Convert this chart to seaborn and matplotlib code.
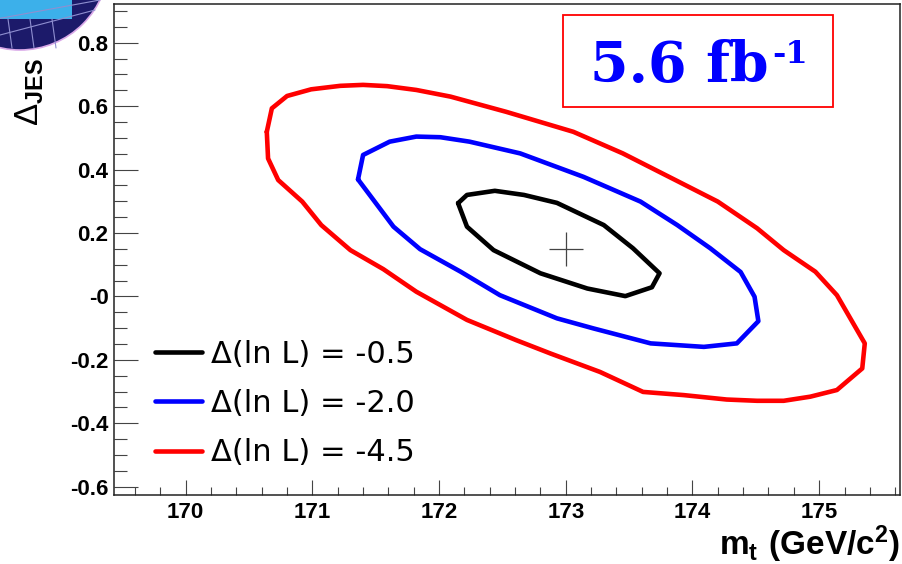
import matplotlib
matplotlib.use("Agg")
import matplotlib.pyplot as plt
from matplotlib.patches import Circle, Rectangle
import seaborn as sns
import pandas as pd

# contour points (m_t in GeV/c^2, Delta_JES)
black_x = [172.15, 172.22, 172.44, 172.67, 172.93, 173.30, 173.53, 173.74, 173.68, 173.47,
           173.17, 172.80, 172.43, 172.22]
black_y = [0.294, 0.320, 0.333, 0.320, 0.295, 0.225, 0.152, 0.073, 0.029, 0.001,
           0.025, 0.073, 0.146, 0.220]

blue_x = [171.36, 171.40, 171.61, 171.82, 172.01, 172.24, 172.64, 173.14, 173.59, 173.88,
          174.14, 174.38, 174.49, 174.52, 174.35, 174.09, 173.67, 173.22, 172.93, 172.48,
          172.17, 171.85, 171.64]
blue_y = [0.369, 0.446, 0.488, 0.504, 0.502, 0.488, 0.451, 0.377, 0.299, 0.225,
          0.152, 0.077, -0.001, -0.078, -0.148, -0.159, -0.148, -0.101, -0.069, 0.004,
          0.078, 0.149, 0.220]

red_x = [170.64, 170.68, 170.80, 170.99, 171.22, 171.40, 171.59, 171.82, 172.09, 172.53,
         173.06, 173.45, 173.85, 174.20, 174.51, 174.72, 174.97, 175.14, 175.36, 175.34,
         175.14, 174.93, 174.72, 174.51, 174.27, 173.93, 173.61, 173.27, 172.88, 172.61,
         172.22, 171.82, 171.56, 171.30, 171.07, 170.92, 170.73, 170.65]
red_y = [0.519, 0.593, 0.632, 0.653, 0.664, 0.667, 0.663, 0.651, 0.630, 0.582,
         0.519, 0.451, 0.370, 0.299, 0.215, 0.146, 0.078, 0.004, -0.148, -0.227,
         -0.295, -0.316, -0.329, -0.329, -0.325, -0.311, -0.301, -0.238, -0.180, -0.138,
         -0.074, 0.015, 0.086, 0.146, 0.225, 0.299, 0.367, 0.435]

levels = ["Δ(ln L) = -0.5", "Δ(ln L) = -2.0", "Δ(ln L) = -4.5"]
colors = ["black", "#0000ff", "#ff0000"]
best_fit = (173.0, 0.15)

y_ticks = [-0.6, -0.4, -0.2, 0.0, 0.2, 0.4, 0.6, 0.8]
y_tick_labels = ["-0.6", "-0.4", "-0.2", "-0", "0.2", "0.4", "0.6", "0.8"]
x_ticks = [170, 171, 172, 173, 174, 175]

rows = []
for lab, xs, ys in zip(levels, [black_x, blue_x, red_x], [black_y, blue_y, red_y]):
    xs, ys = xs + xs[:1], ys + ys[:1]  # close the contour
    for i, (x, y) in enumerate(zip(xs, ys)):
        rows.append((lab, i, x, y))
df = pd.DataFrame(rows, columns=["level", "order", "mt", "jes"])

sns.set_theme(style="white")
plt.rcParams["font.family"] = ["Liberation Sans", "DejaVu Sans"]
plt.rcParams["text.color"] = "black"
plt.rcParams["mathtext.fontset"] = "custom"
plt.rcParams["mathtext.rm"] = "Liberation Sans"
plt.rcParams["mathtext.bf"] = "Liberation Sans:bold"

W, H = 903, 564
fig = plt.figure(figsize=(W / 100, H / 100), dpi=100)
ax = fig.add_axes([114 / W, 1 - 495 / H, (900 - 114) / W, (495 - 4) / H])

sns.lineplot(data=df, x="mt", y="jes", hue="level", hue_order=levels,
             palette=dict(zip(levels, colors)), sort=False, estimator=None,
             units="level", linewidth=3.3, ax=ax)
ax.plot(*best_fit, marker="+", markersize=25, mew=0.9, color="#444444", ls="none")

ax.set_xlim(169.434, 175.638)
ax.set_ylim(-0.626, 0.922)
ax.set_xticks(x_ticks)
ax.set_xticklabels([str(t) for t in x_ticks])
ax.set_yticks(y_ticks)
ax.set_yticklabels(y_tick_labels)
ax.set_xticks([169.6 + 0.2 * i for i in range(31) if (i % 5) != 2], minor=True)
ax.set_yticks([-0.6 + 0.05 * i for i in range(31)], minor=True)
ax.set_xlabel("")
ax.set_ylabel("")
for lab in ax.get_xticklabels() + ax.get_yticklabels():
    lab.set_fontweight("bold")
    lab.set_fontsize(16)
    lab.set_color("black")
ax.tick_params(axis="x", which="major", direction="in", length=10.8, width=0.8,
               color="#444444", pad=5, bottom=True)
ax.tick_params(axis="x", which="minor", direction="in", length=5.8, width=0.8,
               color="#444444", bottom=True)
ax.tick_params(axis="y", which="major", direction="in", length=17.3, width=0.8,
               color="#444444", pad=4, left=True)
ax.tick_params(axis="y", which="minor", direction="in", length=9.4, width=0.8,
               color="#444444", left=True)
for sp in ax.spines.values():
    sp.set_color("#222222")
    sp.set_linewidth(1.1)

handles, labels = ax.get_legend_handles_labels()
leg = ax.legend(handles, labels, loc="upper left", frameon=False,
                bbox_to_anchor=(155 / W, 1 - 340 / H), bbox_transform=fig.transFigure,
                prop={"family": "DejaVu Sans", "size": 22}, handlelength=1.54,
                handletextpad=0.29, labelspacing=0.66, borderpad=0, borderaxespad=0)
for t in leg.get_texts():
    t.set_color("black")

# overlay in pixel coordinates for logo and annotations
ov = fig.add_axes([0, 0, 1, 1])
ov.set_xlim(0, W)
ov.set_ylim(H, 0)
ov.axis("off")
ov.patch.set_visible(False)

ov.add_patch(Circle((20, -39), 89, facecolor="#1c1a6a", edgecolor="#d9a8e8", lw=1.2))
ov.add_patch(Rectangle((0, 0), 72, 19, facecolor="#3cb0ea", edgecolor="none"))
for x0 in [8, 30, 52]:
    ov.plot([x0, x0 + 4], [19, 48], color="#8f8fd0", lw=0.8)
ov.plot([-20, 100], [22, 0], color="#8f8fd0", lw=0.8)
ov.plot([0, 95], [35, 10], color="#8f8fd0", lw=0.8)

ov.add_patch(Rectangle((563, 15), 270, 92, facecolor="white", edgecolor="#ff0000", lw=1.3))
ov.text(590, 82, "5.6 fb", family="DejaVu Serif", weight="bold", size=40,
        color="#0000ff", ha="left", va="baseline")
ov.text(772, 63, "-1", family="DejaVu Serif", weight="bold", size=23,
        color="#0000ff", ha="left", va="baseline")

ov.text(900, 555, r"$\mathbf{m_{t}\ (GeV/c^{2})}$", size=24, ha="right", va="baseline",
        color="black")
ov.text(30, 92, r"$\Delta_{\mathbf{JES}}$", size=24, rotation=90, ha="center",
        va="center", color="black")

fig.savefig("out.png", dpi=100)
